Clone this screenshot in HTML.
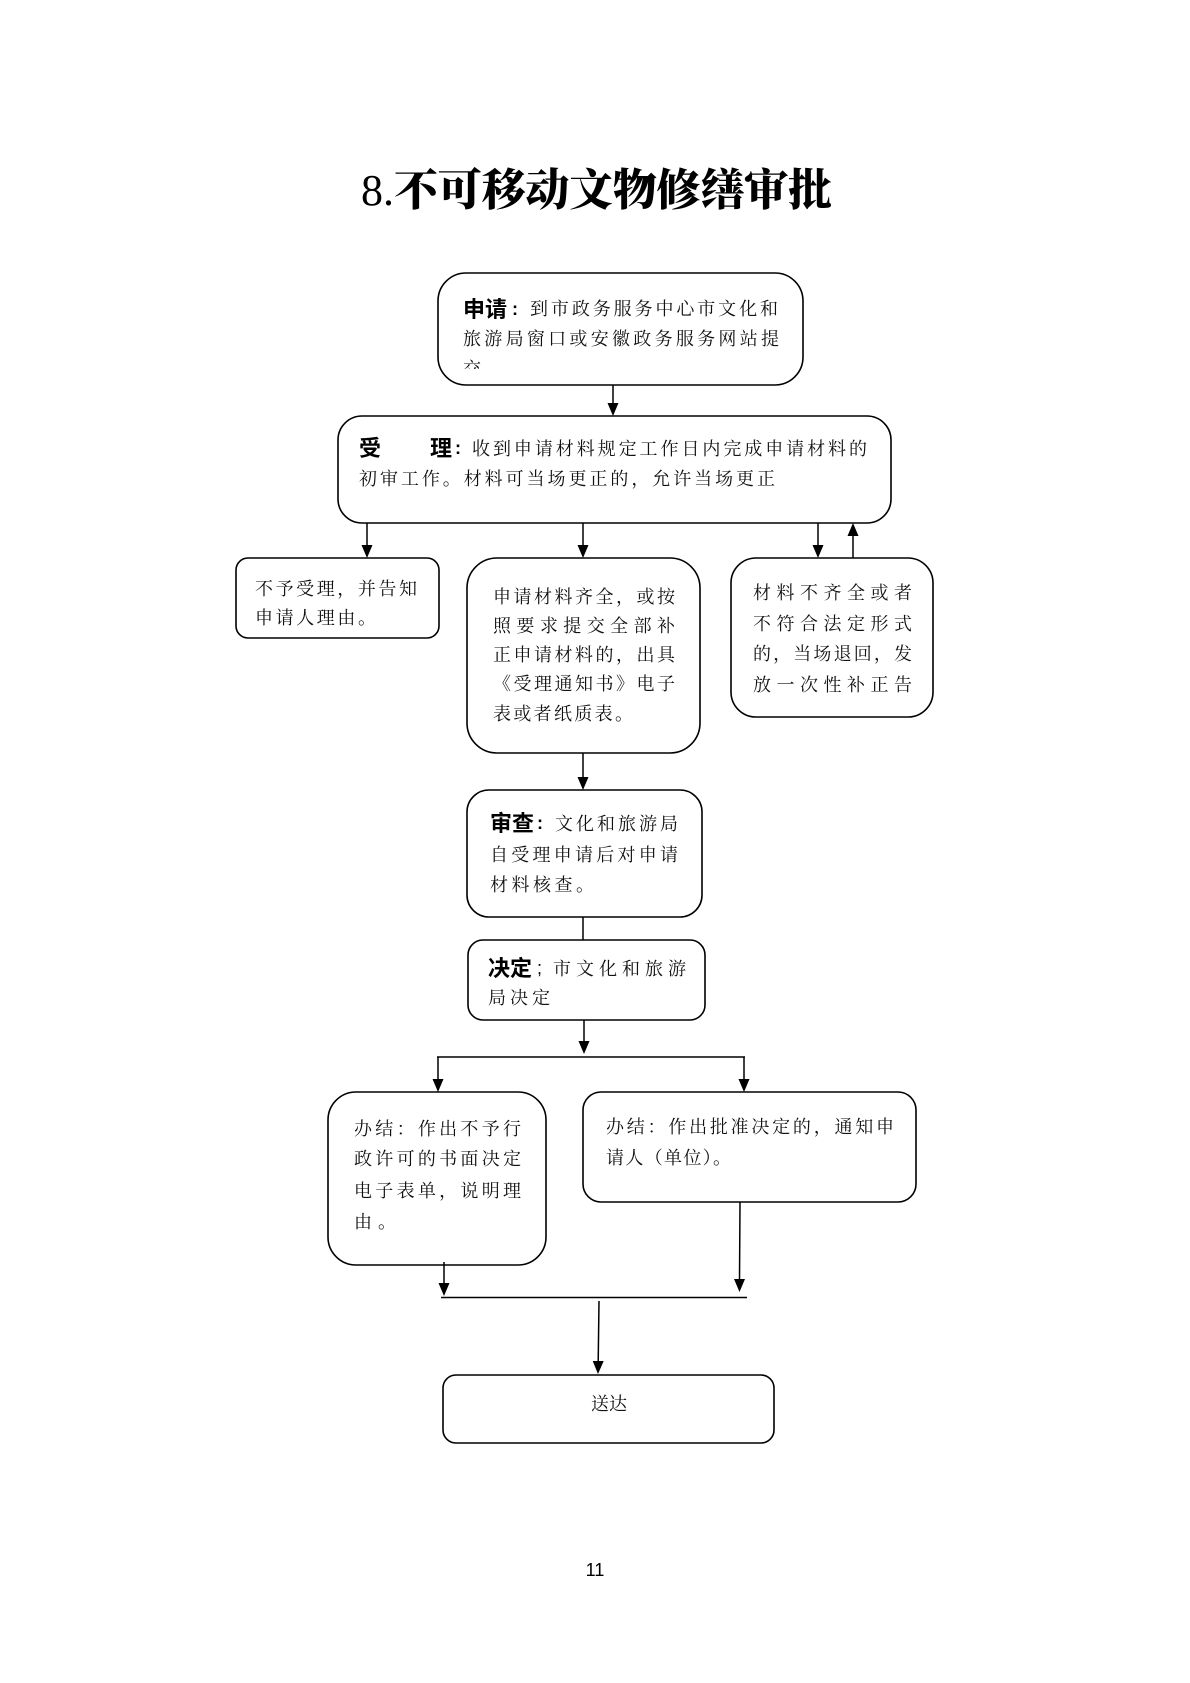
<!DOCTYPE html>
<html>
<head>
<meta charset="utf-8">
<style>
html,body{margin:0;padding:0;background:#fff;}
svg{display:block;}
.b{font-family:"Liberation Serif","Noto Serif CJK SC",serif;font-size:18px;fill:#111;}
.h{font-family:"Liberation Sans","Noto Sans CJK SC",sans-serif;font-size:22px;font-weight:bold;fill:#000;}
.box{fill:none;stroke:#000;stroke-width:1.6;}
.ln{stroke:#000;stroke-width:1.5;fill:none;}
.ah{fill:#000;}
</style>
</head>
<body>
<svg width="1190" height="1683" viewBox="0 0 1190 1683" xmlns="http://www.w3.org/2000/svg">
<rect x="0" y="0" width="1190" height="1683" fill="#fff"/>
<defs>
<clipPath id="c1"><rect x="440" y="275" width="360" height="94"/></clipPath>
</defs>

<!-- Title -->
<text x="361" y="205" style="font-size:44px;fill:#000;"><tspan style="font-family:'Liberation Serif',serif;">8.</tspan><tspan style="font-family:'Liberation Serif','Noto Serif CJK SC',serif;font-weight:900;" textLength="438" lengthAdjust="spacing">不可移动文物修缮审批</tspan></text>

<!-- Box 1 申请 -->
<rect class="box" x="438" y="273" width="365" height="112" rx="28" ry="28"/>
<text class="h" x="463" y="317">申请</text>
<text class="h" x="512" y="315" style="font-size:18px;">:</text>
<text class="b" x="530" y="315" textLength="248" lengthAdjust="spacing">到市政务服务中心市文化和</text>
<text class="b" x="463" y="345" textLength="316" lengthAdjust="spacing">旅游局窗口或安徽政务服务网站提</text>
<g clip-path="url(#c1)"><text class="b" x="463" y="375">交</text></g>

<!-- arrow 1 -->
<line class="ln" x1="613" y1="385" x2="613" y2="404"/>
<polygon class="ah" points="607.5,403 618.5,403 613,416"/>

<!-- Box 2 受理 -->
<rect class="box" x="338" y="416" width="553" height="107" rx="24" ry="24"/>
<text class="h" x="359" y="456">受</text>
<text class="h" x="430" y="456">理</text>
<text class="h" x="455" y="454" style="font-size:18px;">:</text>
<text class="b" x="472" y="455" textLength="395" lengthAdjust="spacing">收到申请材料规定工作日内完成申请材料的</text>
<text class="b" x="359" y="485" textLength="416" lengthAdjust="spacing">初审工作。材料可当场更正的，允许当场更正</text>

<!-- arrows from box 2 -->
<line class="ln" x1="367" y1="523" x2="367" y2="546"/>
<polygon class="ah" points="361.5,545 372.5,545 367,558"/>
<line class="ln" x1="583" y1="523" x2="583" y2="546"/>
<polygon class="ah" points="577.5,545 588.5,545 583,558"/>
<line class="ln" x1="818" y1="523" x2="818" y2="546"/>
<polygon class="ah" points="812.5,545 823.5,545 818,558"/>
<line class="ln" x1="853" y1="558" x2="853" y2="535"/>
<polygon class="ah" points="847.5,536 858.5,536 853,523"/>

<!-- Box 3a -->
<rect class="box" x="236" y="558" width="203" height="80" rx="12" ry="12"/>
<text class="b" x="255" y="595" textLength="162" lengthAdjust="spacing">不予受理，并告知</text>
<text class="b" x="255" y="624" textLength="121" lengthAdjust="spacing">申请人理由。</text>

<!-- Box 3b -->
<rect class="box" x="467" y="558" width="233" height="195" rx="30" ry="30"/>
<text class="b" x="493" y="603" textLength="182" lengthAdjust="spacing">申请材料齐全，或按</text>
<text class="b" x="493" y="632" textLength="182" lengthAdjust="spacing">照要求提交全部补</text>
<text class="b" x="493" y="661" textLength="182" lengthAdjust="spacing">正申请材料的，出具</text>
<text class="b" x="493" y="690" textLength="182" lengthAdjust="spacing">《受理通知书》电子</text>
<text class="b" x="493" y="720" textLength="140" lengthAdjust="spacing">表或者纸质表。</text>

<!-- Box 3c -->
<rect class="box" x="731" y="558" width="202" height="159" rx="25" ry="25"/>
<text class="b" x="753" y="599" textLength="159" lengthAdjust="spacing">材料不齐全或者</text>
<text class="b" x="753" y="630" textLength="159" lengthAdjust="spacing">不符合法定形式</text>
<text class="b" x="753" y="660" textLength="159" lengthAdjust="spacing">的，当场退回，发</text>
<text class="b" x="753" y="691" textLength="159" lengthAdjust="spacing">放一次性补正告</text>

<!-- arrow 3b -> 审查 -->
<line class="ln" x1="583" y1="753" x2="583" y2="778"/>
<polygon class="ah" points="577.5,777 588.5,777 583,790"/>

<!-- Box 审查 -->
<rect class="box" x="467" y="790" width="235" height="127" rx="22" ry="22"/>
<text class="h" x="490" y="831">审查</text>
<text class="h" x="537" y="829" style="font-size:18px;">:</text>
<text class="b" x="555" y="830" textLength="123" lengthAdjust="spacing">文化和旅游局</text>
<text class="b" x="490" y="861" textLength="188" lengthAdjust="spacing">自受理申请后对申请</text>
<text class="b" x="490" y="891" textLength="104" lengthAdjust="spacing">材料核查。</text>

<!-- connector 审查 -> 决定 -->
<line class="ln" x1="583" y1="917" x2="583" y2="940"/>

<!-- Box 决定 -->
<rect class="box" x="468" y="940" width="237" height="80" rx="15" ry="15"/>
<text class="h" x="488" y="976">决定</text>
<text class="h" x="537" y="974" style="font-size:18px;font-weight:normal;">;</text>
<text class="b" x="553" y="975" textLength="133" lengthAdjust="spacing">市文化和旅游</text>
<text class="b" x="488" y="1004" textLength="62" lengthAdjust="spacing">局决定</text>

<!-- arrow 决定 down + split -->
<line class="ln" x1="584" y1="1020" x2="584" y2="1042"/>
<polygon class="ah" points="578.5,1041 589.5,1041 584,1054"/>
<line class="ln" x1="437" y1="1057" x2="745" y2="1057"/>
<line class="ln" x1="438" y1="1057" x2="438" y2="1080"/>
<polygon class="ah" points="432.5,1079 443.5,1079 438,1092"/>
<line class="ln" x1="744" y1="1057" x2="744" y2="1080"/>
<polygon class="ah" points="738.5,1079 749.5,1079 744,1092"/>

<!-- Box 6a -->
<rect class="box" x="328" y="1092" width="218" height="173" rx="28" ry="28"/>
<text class="b" x="354" y="1135" textLength="167" lengthAdjust="spacing">办结：作出不予行</text>
<text class="b" x="354" y="1165" textLength="167" lengthAdjust="spacing">政许可的书面决定</text>
<text class="b" x="354" y="1197" textLength="167" lengthAdjust="spacing">电子表单，说明理</text>
<text class="b" x="354" y="1228" textLength="42" lengthAdjust="spacing">由。</text>

<!-- Box 6b -->
<rect class="box" x="583" y="1092" width="333" height="110" rx="18" ry="18"/>
<text class="b" x="606" y="1133" textLength="288" lengthAdjust="spacing">办结：作出批准决定的，通知申</text>
<text class="b" x="606" y="1164" textLength="125" lengthAdjust="spacing">请人（单位）。</text>

<!-- merge arrows -->
<line class="ln" x1="444" y1="1262" x2="444" y2="1284"/>
<polygon class="ah" points="438.5,1283 449.5,1283 444,1296"/>
<line class="ln" x1="740" y1="1202" x2="739.5" y2="1280"/>
<polygon class="ah" points="734,1279 745,1279 739.5,1292"/>
<line class="ln" x1="441" y1="1297.5" x2="747" y2="1297.5"/>
<line class="ln" x1="599" y1="1301" x2="598.2" y2="1362"/>
<polygon class="ah" points="592.7,1361 603.7,1361 598,1374"/>

<!-- Box 送达 -->
<rect class="box" x="443" y="1375" width="331" height="68" rx="13" ry="13"/>
<text class="b" x="609" y="1410" text-anchor="middle">送达</text>

<!-- page number -->
<text x="595" y="1576" text-anchor="middle" style="font-family:'Liberation Sans',sans-serif;font-size:18px;fill:#000;">11</text>
</svg>
</body>
</html>
